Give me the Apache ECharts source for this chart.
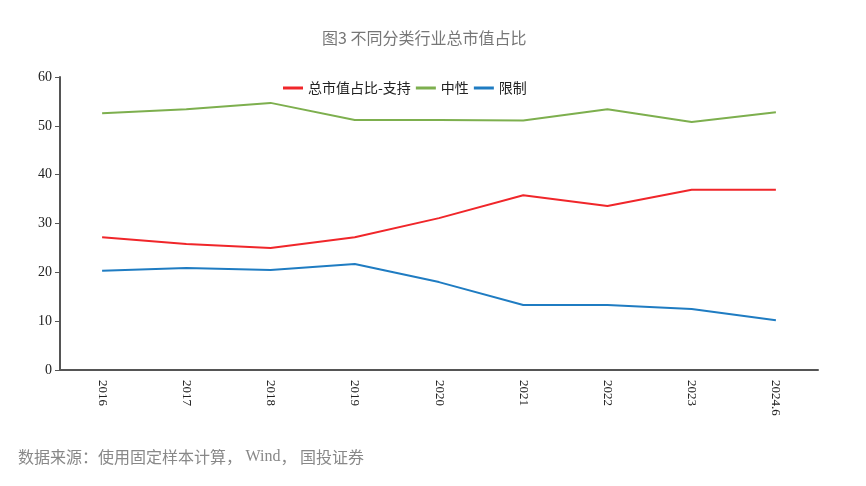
<!DOCTYPE html>
<html>
<head>
<meta charset="utf-8">
<script src="https://cdn.jsdelivr.net/npm/echarts@6/dist/echarts.min.js"></script>
<style>
  html, body { margin: 0; padding: 0; background: #fff; }
  #chart { width: 866px; height: 486px; }
</style>
</head>
<body>
<div id="chart"></div>
<script>
const years = ['2016', '2017', '2018', '2019', '2020', '2021', '2022', '2023', '2024.6'];
const support = [27.2, 25.8, 25.0, 27.2, 31.1, 35.8, 33.6, 36.9, 36.9];
const neutral = [52.6, 53.4, 54.7, 51.2, 51.2, 51.1, 53.4, 50.8, 52.8];
const restrict = [20.3, 20.9, 20.5, 21.7, 18.0, 13.3, 13.3, 12.5, 10.2];

const chart = echarts.init(document.getElementById('chart'));
chart.setOption({
  animation: false,
  title: {
    text: '图3 不同分类行业总市值占比',
    left: 317,
    top: 25,
    textStyle: { fontSize: 16, fontWeight: 'normal', color: '#777', fontFamily: 'Noto Sans CJK SC' }
  },
  graphic: [{
    type: 'text',
    left: 18,
    top: 449,
    style: {
      text: '数据来源：使用固定样本计算， {w|Wind}， 国投证券',
      fontSize: 16,
      fill: '#888',
      fontFamily: 'Noto Sans CJK SC',
      rich: { w: { fontSize: 16, fontFamily: 'Liberation Serif', fill: '#888' } }
    }
  }],
  legend: {
    top: 76,
    left: 278,
    itemWidth: 20,
    itemHeight: 3,
    itemGap: 5,
    icon: 'rect',
    textStyle: { fontSize: 14, color: '#222', fontFamily: 'Noto Sans CJK SC' },
    data: ['总市值占比-支持', '中性', '限制']
  },
  grid: { left: 60, right: 48, top: 77, bottom: 116 },
  xAxis: {
    type: 'category',
    data: years,
    boundaryGap: true,
    axisLine: { lineStyle: { color: '#555', width: 2 } },
    axisTick: { lineStyle: { color: '#555' }, length: 5 },
    axisLabel: { rotate: -90, color: '#222', fontSize: 13, fontFamily: 'Liberation Serif', margin: 10 }
  },
  yAxis: {
    type: 'value',
    min: 0,
    max: 60,
    interval: 10,
    splitLine: { show: false },
    axisLine: { show: true, lineStyle: { color: '#555', width: 2 } },
    axisTick: { show: true, lineStyle: { color: '#555' }, length: 5 },
    axisLabel: { color: '#222', fontSize: 14, fontFamily: 'Liberation Serif', margin: 8 }
  },
  series: [
    { name: '总市值占比-支持', type: 'line', data: support, symbol: 'none', lineStyle: { color: '#f0262a', width: 2 }, itemStyle: { color: '#f0262a' } },
    { name: '中性', type: 'line', data: neutral, symbol: 'none', lineStyle: { color: '#7daf4e', width: 2 }, itemStyle: { color: '#7daf4e' } },
    { name: '限制', type: 'line', data: restrict, symbol: 'none', lineStyle: { color: '#1f7cc2', width: 2 }, itemStyle: { color: '#1f7cc2' } }
  ]
});
</script>
</body>
</html>
